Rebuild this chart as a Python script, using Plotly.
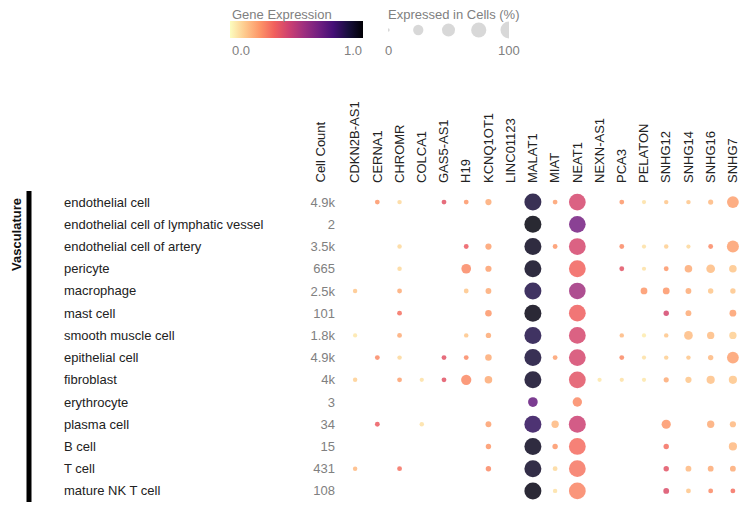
import plotly.graph_objects as go

# the page body has an 8px margin, so the figure sits at (8, 8)
OX, OY = 8, 8
W, H = 748 - 2 * OX, 510 - 2 * OY


def px(x):
    return (x - OX) / W


def py(y):
    return 1 - (y - OY) / H


genes = ['CDKN2B-AS1', 'CERNA1', 'CHROMR', 'COLCA1', 'GAS5-AS1', 'H19', 'KCNQ1OT1',
         'LINC01123', 'MALAT1', 'MIAT', 'NEAT1', 'NEXN-AS1', 'PCA3', 'PELATON',
         'SNHG12', 'SNHG14', 'SNHG16', 'SNHG7']

cell_types = ['endothelial cell', 'endothelial cell of lymphatic vessel',
              'endothelial cell of artery', 'pericyte', 'macrophage', 'mast cell',
              'smooth muscle cell', 'epithelial cell', 'fibroblast', 'erythrocyte',
              'plasma cell', 'B cell', 'T cell', 'mature NK T cell']

cell_counts = ['4.9k', '2', '3.5k', '665', '2.5k', '101', '1.8k', '4.9k', '4k', '3',
               '34', '15', '431', '108']

N = None
# mean expression (0-1), one row per cell type, columns follow `genes`
expr = [
    [N, .22, .08, N, .38, .22, .18, N, .90, .20, .42, N, .22, .06, .12, .12, .15, .20],
    [N, N, N, N, N, N, N, N, .98, N, .66, N, N, N, N, N, N, N],
    [N, N, .08, N, N, .35, .20, N, .95, .22, .42, N, .25, .06, .10, .08, .25, .20],
    [N, N, .08, N, N, .25, .20, N, .95, N, .33, N, .38, .06, .22, .18, .14, .12],
    [.12, N, .18, N, N, .12, .18, N, .87, N, .55, N, N, .22, .22, .18, .12, .12],
    [N, N, .30, N, N, N, .22, N, .97, N, .34, N, N, N, .42, .18, N, .20],
    [.05, N, .18, N, N, .12, .18, N, .87, N, .42, N, .15, .04, .12, .14, .14, .10],
    [N, .25, .08, N, .38, .25, .18, N, .90, .20, .42, N, .25, .06, .10, .12, .15, .20],
    [.10, N, .20, .06, .38, .25, .18, N, .93, N, .38, .05, .06, .05, .18, .12, .13, .12],
    [N, N, N, N, N, N, N, N, .70, N, .25, N, N, N, N, N, N, N],
    [N, .35, N, .06, N, N, .20, N, .83, .15, .45, N, N, N, .22, N, .18, .15],
    [N, N, N, N, N, N, .22, N, .95, .22, .31, N, N, N, .30, N, N, .15],
    [.15, N, .30, N, N, N, .25, N, .93, .08, .29, N, N, N, .38, .15, .18, .18],
    [N, N, N, N, N, N, N, N, .97, .06, .26, N, N, N, .40, .12, .25, .30],
]

# percent of cells expressing
pct = [
    [N, 1, .5, N, 1, 1, 4, N, 100, 1, 97, N, 1, .3, .5, .5, 1.5, 38],
    [N, N, N, N, N, N, N, N, 100, N, 95, N, N, N, N, N, N, N],
    [N, N, .5, N, N, 1, 4, N, 100, 1, 97, N, 1, .3, .5, .3, 1, 40],
    [N, N, .5, N, N, 21, 4, N, 100, N, 97, N, 1, .3, 1, 9, 15, 9],
    [.5, N, 1, N, N, 1, 3, N, 100, N, 95, N, N, 6, 6, 3, 2, 2],
    [N, N, 1, N, N, N, 5, N, 100, N, 97, N, N, N, 2, 3, N, 6],
    [.3, N, 1, N, N, .5, 2, N, 100, N, 97, N, .5, .3, .5, 15, 8, 8],
    [N, 1, .5, N, 1, 1, 5, N, 100, 1, 97, N, 1, .3, .5, .5, 2, 38],
    [.5, N, 1, .3, 1, 25, 9, N, 100, N, 97, .3, .3, .3, 1.5, 4, 12, 12],
    [N, N, N, N, N, N, N, N, 21, N, 19, N, N, N, N, N, N, N],
    [N, 1, N, .5, N, N, 3, N, 100, 8, 100, N, N, N, 18, N, 8, 4],
    [N, N, N, N, N, N, 2, N, 100, 2, 97, N, N, N, 2, N, N, 12],
    [.5, N, 1, N, N, N, 2, N, 100, 1, 97, N, N, N, 2, 3, 3, 3],
    [N, N, N, N, N, N, N, N, 100, .5, 97, N, N, N, 3, 1, 1, 1],
]

legend_pct = [0, 25, 50, 75, 100]


def dot_size(p):
    return 3.5 + 1.35 * p ** 0.5


xs, ys, cs, ss = [], [], [], []
for i, ct in enumerate(cell_types):
    for j, g in enumerate(genes):
        if expr[i][j] is None:
            continue
        xs.append(g)
        ys.append(ct)
        cs.append(expr[i][j])
        ss.append(dot_size(pct[i][j]))

FONT = 'Arial, Liberation Sans, sans-serif'

# one column is ~22.2px wide; the plot area stops at the figure's right edge
col_w = 400 / len(genes)
x_left, x_right = 344, OX + W

fig = go.Figure()
fig.add_trace(go.Scatter(
    x=xs, y=ys, mode='markers', showlegend=False,
    marker=dict(size=ss, color=cs, colorscale='Magma', reversescale=True,
                cmin=0, cmax=1, opacity=0.85, line_width=0, showscale=True,
                colorbar=dict(orientation='h', x=px(230), xanchor='left',
                              y=py(21), yanchor='top', len=133, lenmode='pixels',
                              thickness=17, xpad=0, ypad=0, outlinewidth=0,
                              showticklabels=False, ticks=''))
))

# size legend
fig.add_trace(go.Scatter(
    x=legend_pct, y=[0] * len(legend_pct), xaxis='x2', yaxis='y2', mode='markers',
    showlegend=False, marker=dict(size=[dot_size(p) for p in legend_pct],
                                  color='#c8c8c8', line_width=0)
))

annotations = []
for ct in cell_types:
    annotations.append(dict(x=px(62), xanchor='left', y=ct, yref='y',
                            text=ct, font=dict(size=13, color='#222')))

gray = dict(size=13, color='#808080')
annotations += [
    dict(x=px(230), y=py(14.5), xanchor='left', text='Gene Expression', font=gray),
    dict(x=px(230), y=py(51), xanchor='left', text='0.0', font=gray),
    dict(x=px(364), y=py(51), xanchor='right', text='1.0', font=gray),
    dict(x=px(386), y=py(14.5), xanchor='left', text='Expressed in Cells (%)', font=gray),
    dict(x=0, xref='x2', y=py(51), xanchor='center', text='0', font=gray),
    dict(x=100, xref='x2', y=py(51), xanchor='center', text='100', font=gray),
    dict(x=px(320), y=py(185), xanchor='center', yanchor='bottom', text='Cell Count',
         textangle=-90, font=dict(size=13, color='#222')),
    dict(x=px(16.5), y=py(196), xanchor='center', yanchor='top', text='<b>Vasculature</b>',
         textangle=-90, font=dict(size=13, color='#111')),
]
for a in annotations:
    a.setdefault('xref', 'paper')
    a.setdefault('yref', 'paper')
    a.setdefault('yanchor', 'middle')
    a.setdefault('showarrow', False)

fig.update_layout(
    width=W, height=H, margin=dict(l=0, r=0, t=0, b=0),
    paper_bgcolor='white', plot_bgcolor='white',
    font=dict(family=FONT, size=13, color='#222'),
    annotations=annotations,
    shapes=[dict(type='rect', xref='paper', x0=px(26.5), x1=px(31.5),
                 yref='y domain', y0=0, y1=1, fillcolor='black', line_width=0)],
    xaxis=dict(domain=[px(x_left), px(x_right)], side='top', tickangle=-90,
               categoryorder='array', categoryarray=genes,
               range=[-0.5, -0.5 + (x_right - x_left) / col_w],
               ticklabelstandoff=7,
               showgrid=False, zeroline=False, showline=False, ticks='',
               tickfont=dict(size=13, color='#222')),
    yaxis=dict(domain=[py(502), py(191)], categoryorder='array',
               categoryarray=cell_types, range=[len(cell_types) - 0.5, -0.5],
               tickmode='array', tickvals=cell_types, ticktext=cell_counts,
               ticklabelstandoff=8, showgrid=False, zeroline=False, showline=False,
               ticks='', tickfont=dict(size=13, color='#808080')),
    xaxis2=dict(domain=[px(388), px(509)], range=[0, 100], visible=False, anchor='y2'),
    yaxis2=dict(domain=[py(40), py(20)], range=[-1, 1], visible=False, anchor='x2'),
)

fig.write_html('out.html')
